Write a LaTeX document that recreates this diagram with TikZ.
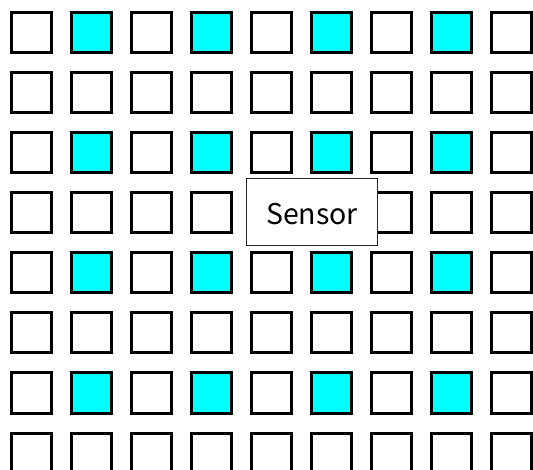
\documentclass[tikz,border=0pt]{standalone}
\usepackage{fontspec}
\newfontfamily\gothic{Noto Sans CJK JP}
\usepackage{xcolor}
\usepackage{tikz}
\usetikzlibrary{positioning}
\definecolor{pixcyan}{RGB}{0,255,255}

\begin{document}
\begin{tikzpicture}[x=1pt,y=1pt]
			\tikzstyle{cell}=[draw,line width=3pt,fill=white,minimum size=40pt,inner sep=0pt]
			\tikzstyle{lit}=[cell,fill=pixcyan]
			\tikzstyle{sensorbox}=[draw=black!85,line width=1pt,fill=white,minimum width=131pt,minimum height=67pt,inner sep=0pt,text height=25pt,text depth=0pt,font=\gothic\fontsize{28.5}{34}\selectfont]

			\useasboundingbox (0,0) rectangle (533,-470);

			% pixel grid, cyan on even rows / odd columns
			\foreach \r in {0,...,7}{
				\foreach \c in {0,...,8}{
					\pgfmathtruncatemacro{\on}{(mod(\r,2)==0) && (mod(\c,2)==1)}
					\ifnum\on=1
						\node (p-\r-\c) [lit] at (31.5+60*\c,-33-60*\r) {};
					\else
						\node (p-\r-\c) [cell] at (31.5+60*\c,-33-60*\r) {};
					\fi
				}
			}

			\node (sensor) [sensorbox] at (312,-212) {Sensor};

		\end{tikzpicture}
\end{document}
